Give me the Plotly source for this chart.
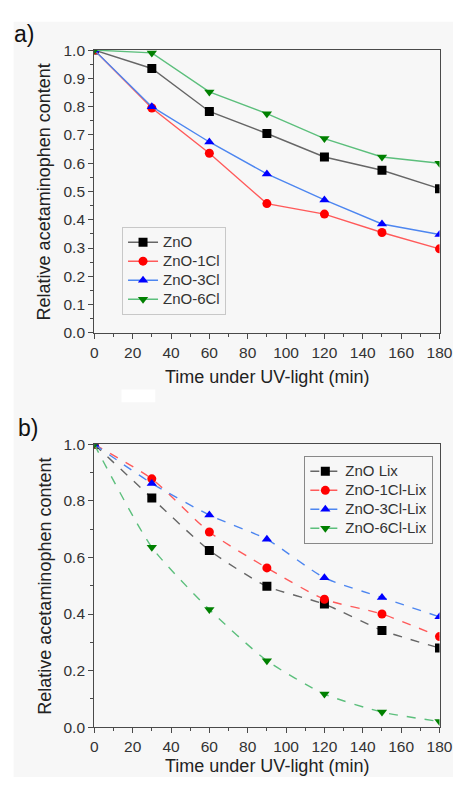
import plotly.graph_objects as go

# ---------------- data ----------------
time_min = [0, 30, 60, 90, 120, 150, 180]

# panel a)
zno = [1.0, 0.935, 0.783, 0.705, 0.622, 0.575, 0.51]
zno_1cl = [1.0, 0.795, 0.635, 0.457, 0.42, 0.355, 0.297]
zno_3cl = [1.0, 0.80, 0.675, 0.562, 0.47, 0.385, 0.348]
zno_6cl = [1.0, 0.99, 0.852, 0.775, 0.687, 0.622, 0.60]

# panel b)
zno_lix = [1.0, 0.81, 0.625, 0.498, 0.435, 0.342, 0.28]
zno_1cl_lix = [1.0, 0.878, 0.69, 0.563, 0.452, 0.40, 0.32]
zno_3cl_lix = [1.0, 0.862, 0.75, 0.664, 0.528, 0.458, 0.39]
zno_6cl_lix = [1.0, 0.636, 0.416, 0.235, 0.117, 0.053, 0.02]

names_a = ["ZnO", "ZnO-1Cl", "ZnO-3Cl", "ZnO-6Cl"]
names_b = ["ZnO Lix", "ZnO-1Cl-Lix", "ZnO-3Cl-Lix", "ZnO-6Cl-Lix"]
x_ticks = [0, 20, 40, 60, 80, 100, 120, 140, 160, 180]

# ---------------- styling ----------------
W, H = 466, 785
FONT = "Liberation Sans, Arial, sans-serif"
BG = "#f7f7f7"
marker_colors = ["#000000", "#ff0000", "#0000ff", "#008000"]
line_colors = ["#666666", "#ff5a5a", "#4d86f0", "#5cbf7c"]
symbols = ["square", "circle", "triangle-up", "triangle-down"]


def px_x(p):
    return p / W


def px_y(p):
    return 1 - p / H


def legend_label(s):
    return "<span style='font-size:15px'>" + s + "</span>"


fig = go.Figure()

for name, vals, mc, lc, sym in zip(names_a, [zno, zno_1cl, zno_3cl, zno_6cl],
                                   marker_colors, line_colors, symbols):
    fig.add_trace(go.Scatter(
        x=time_min, y=vals, name=legend_label(name), mode="lines+markers",
        line=dict(color=lc, width=1.4),
        marker=dict(symbol=sym, size=9, color=mc),
        xaxis="x", yaxis="y", legend="legend"))

for name, vals, mc, lc, sym in zip(names_b, [zno_lix, zno_1cl_lix, zno_3cl_lix, zno_6cl_lix],
                                   marker_colors, line_colors, symbols):
    fig.add_trace(go.Scatter(
        x=time_min, y=vals, name=legend_label(name), mode="lines+markers",
        line=dict(color=lc, width=1.4, dash="dash", shape="spline", smoothing=0.6),
        marker=dict(symbol=sym, size=9, color=mc),
        xaxis="x2", yaxis="y2", legend="legend2"))

axis_common = dict(
    showline=True, linecolor="#4a4a4a", linewidth=1.3, mirror=True,
    showgrid=False, zeroline=False,
    ticks="outside", ticklen=5, tickwidth=1.2, tickcolor="#4a4a4a",
    tickfont=dict(family=FONT, size=15.5, color="#333333"),
)

xdom = [px_x(93.7), px_x(452)]
fig.update_layout(
    width=W, height=H,
    margin=dict(l=0, r=0, t=0, b=0),
    paper_bgcolor="white", plot_bgcolor=BG,
    font=dict(family=FONT, color="#333333"),
    xaxis=dict(domain=xdom, anchor="y", range=[0, 180], tickvals=x_ticks,
               minor=dict(dtick=10, ticklen=3, ticks="outside", tickcolor="#4a4a4a"),
               **axis_common),
    yaxis=dict(domain=[px_y(331), px_y(42)], anchor="x", range=[0, 1.0], dtick=0.1,
               tickformat=".1f",
               minor=dict(dtick=0.05, ticklen=3, ticks="outside", tickcolor="#4a4a4a"),
               **axis_common),
    xaxis2=dict(domain=xdom, anchor="y2", range=[0, 180], tickvals=x_ticks,
                minor=dict(dtick=10, ticklen=3, ticks="outside", tickcolor="#4a4a4a"),
                **axis_common),
    yaxis2=dict(domain=[px_y(734), px_y(445)], anchor="x2", range=[0, 1.0], dtick=0.2,
                tickformat=".1f",
                minor=dict(dtick=0.1, ticklen=3, ticks="outside", tickcolor="#4a4a4a"),
                **axis_common),
    legend=dict(x=px_x(122.5), y=px_y(222.5), xanchor="left", yanchor="top",
                bgcolor=BG, bordercolor="#c8c8c8", borderwidth=1,
                font=dict(family=FONT, size=12, color="#333333"),
                tracegroupgap=0, itemwidth=30),
    legend2=dict(x=px_x(311.7), y=px_y(456.7), xanchor="left", yanchor="top",
                 bgcolor=BG, bordercolor="#888888", borderwidth=1,
                 font=dict(family=FONT, size=12, color="#333333"),
                 tracegroupgap=0, itemwidth=30),
    showlegend=True,
)

# grey page background
fig.add_shape(type="rect", xref="paper", yref="paper",
              x0=px_x(10), x1=1, y0=0, y1=px_y(13),
              fillcolor=BG, line=dict(width=0), layer="below")
fig.add_shape(type="rect", xref="paper", yref="paper",
              x0=px_x(122), x1=px_x(157), y0=px_y(402), y1=px_y(389),
              fillcolor="white", line=dict(width=0), layer="below")

ann_font = dict(family=FONT, size=18, color="#222222")
annotations = [
    dict(text="a)", x=px_x(8), y=px_y(26), xanchor="left", yanchor="middle",
         font=dict(family=FONT, size=23, color="#111111")),
    dict(text="b)", x=px_x(12), y=px_y(428), xanchor="left", yanchor="middle",
         font=dict(family=FONT, size=23, color="#111111")),
    dict(text="Relative acetaminophen content", x=px_x(42.5), y=px_y(186.5),
         textangle=-90, xanchor="center", yanchor="middle", font=ann_font),
    dict(text="Time under UV-light (min)", x=px_x(273), y=px_y(376),
         xanchor="center", yanchor="middle", font=ann_font),
    dict(text="Relative acetaminophen content", x=px_x(42.5), y=px_y(589.5),
         textangle=-90, xanchor="center", yanchor="middle", font=ann_font),
    dict(text="Time under UV-light (min)", x=px_x(273), y=px_y(774),
         xanchor="center", yanchor="middle", font=ann_font),
]
for a in annotations:
    fig.add_annotation(xref="paper", yref="paper", showarrow=False, **a)

fig.write_html(
    "out.html",
    config={"displayModeBar": False},
    post_script="document.body.style.margin='0';document.body.style.overflow='hidden';",
)
